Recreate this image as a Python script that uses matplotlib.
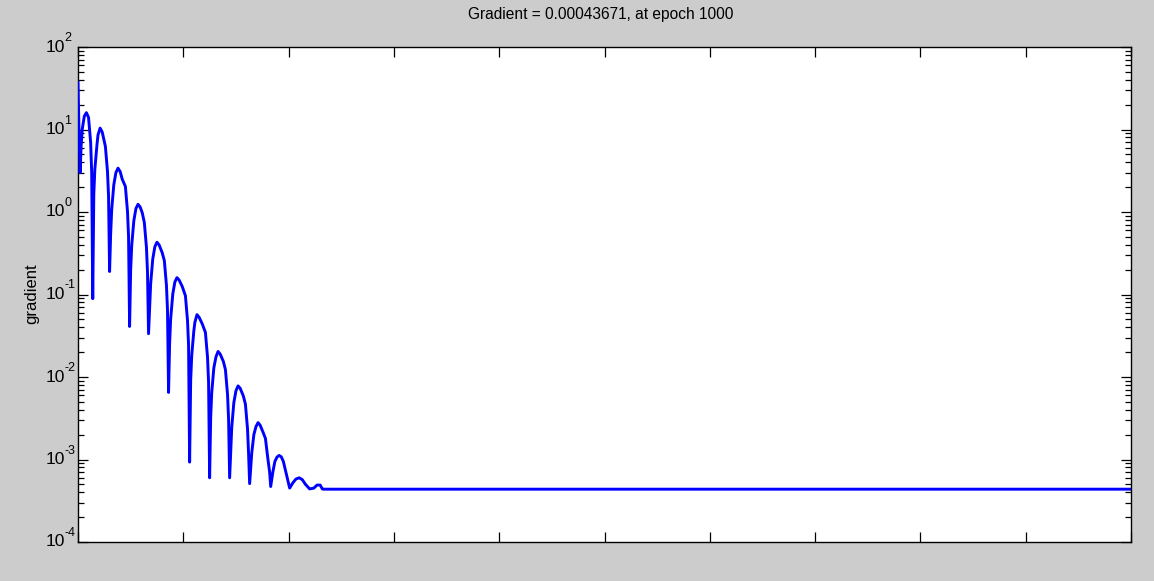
import matplotlib
matplotlib.use("Agg")
import matplotlib.pyplot as plt
from matplotlib import transforms
from matplotlib.ticker import LogLocator, FixedLocator, NullFormatter

# ---------------- data ----------------
epochs = [0, 1, 2, 3, 4, 6, 8, 10, 12, 13, 14,
          15, 16, 18, 19, 21, 23, 26, 28, 29, 30,
          31, 32, 34, 36, 38, 40, 42, 45, 47, 48, 49,
          50, 51, 53, 55, 57, 59, 61, 63, 65, 66, 67,
          68, 69, 71, 73, 75, 77, 80, 82, 84, 85, 86,
          87, 88, 90, 92, 94, 96, 99, 102, 104, 105, 106,
          107, 108, 110, 111, 113, 115, 118, 121, 123, 124, 125,
          126, 127, 129, 131, 133, 135, 138, 140, 142, 143, 144,
          145, 146, 148, 150, 152, 154, 157, 159, 161, 162, 163,
          164, 165, 167, 169, 171, 173, 176, 178, 180, 182, 183,
          185, 187, 189, 191, 193, 195, 198, 201,
          204, 207, 210, 213, 216, 220,
          224, 227, 230, 232, 233, 1000]
gradient = [37, 9, 3.0, 6.5, 10, 14.5, 16, 14, 7, 3, 0.089,
            1.64, 3.3, 6.5, 8.6, 10.4, 9.3, 6.25, 3.1, 1.57, 0.19,
            0.54, 1.07, 2.14, 3.0, 3.4, 3.1, 2.5, 2.04, 1.02, 0.51, 0.041,
            0.196, 0.39, 0.78, 1.1, 1.24, 1.15, 0.98, 0.745, 0.373, 0.187, 0.0335,
            0.0676, 0.135, 0.27, 0.38, 0.43, 0.40, 0.32, 0.257, 0.129, 0.0646, 0.0065,
            0.0254, 0.0507, 0.101, 0.142, 0.16, 0.15, 0.125, 0.0966, 0.0484, 0.0243, 0.00093,
            0.0091, 0.0182, 0.0363, 0.046, 0.057, 0.053, 0.044, 0.0347, 0.0174, 0.0087, 6.0e-4,
            0.00324, 0.00646, 0.0129, 0.0175, 0.0204, 0.019, 0.0155, 0.0123, 0.00617, 0.00309, 6.0e-4,
            0.00123, 0.00245, 0.0049, 0.0068, 0.0078, 0.0073, 0.0059, 0.00468, 0.00234, 0.00117, 5.1e-4,
            8e-4, 1.2e-3, 2.0e-3, 2.5e-3, 2.8e-3, 2.6e-3, 2.1e-3, 1.8e-3, 1.1e-3, 7e-4, 4.7e-4,
            7e-4, 9.5e-4, 1.07e-3, 1.12e-3, 1.08e-3, 9.5e-4, 6.5e-4, 4.5e-4,
            5.2e-4, 5.8e-4, 6.0e-4, 5.7e-4, 5.0e-4, 4.4e-4,
            4.5e-4, 4.9e-4, 4.9e-4, 4.4e-4, 4.3671e-4, 4.3671e-4]

x_ticks = [0, 100, 200, 300, 400, 500, 600, 700, 800, 900, 1000]
y_ticks = [1e-4, 1e-3, 1e-2, 1e-1, 1e0, 1e1, 1e2]
y_tick_base = "10"
y_tick_exponents = ["-4", "-3", "-2", "-1", "0", "1", "2"]
title_text = "Gradient = 0.00043671, at epoch 1000"
y_label = "gradient"

plt.rcParams['font.family'] = ['Liberation Sans', 'DejaVu Sans']

W, H = 1154, 581
fig = plt.figure(figsize=(W / 100, H / 100), dpi=100, facecolor='#cccccc')
left, right, top, bottom = 78, 1131, 47, 542
ax = fig.add_axes([left / W, 1 - bottom / H, (right - left) / W, (bottom - top) / H])
ax.set_facecolor('white')

ax.plot(epochs, gradient, color='#0000ff', lw=2.1, zorder=3)

ax.set_yscale('log')
ax.set_xlim(0, 1000)
ax.set_ylim(1e-4, 1e2)

ax.xaxis.set_major_locator(FixedLocator(x_ticks))
ax.set_xticklabels([''] * len(x_ticks))
ax.yaxis.set_major_locator(FixedLocator(y_ticks))
ax.set_yticklabels([''] * len(y_ticks))
ax.yaxis.set_minor_locator(LogLocator(base=10, subs=[2, 3, 4, 5, 6, 7, 8, 9], numticks=20))
ax.yaxis.set_minor_formatter(NullFormatter())

ax.tick_params(axis='both', which='major', direction='in', length=7.5, width=0.9,
               top=True, right=True, colors='black')
ax.tick_params(axis='y', which='minor', direction='in', length=4, width=0.9, right=True, left=True)
for s in ax.spines.values():
    s.set_linewidth(1.0)
    s.set_color('black')

# MATLAB-style "10" with raised exponent, drawn as real text at each decade
ytrans = ax.get_yaxis_transform()
base_x = (46 - left) / (right - left)
sup_x = (64.5 - left) / (right - left)
for yv, ex in zip(y_ticks, y_tick_exponents):
    ax.text(base_x, yv, y_tick_base, transform=ytrans, ha='left', va='center',
            fontsize=12.5, clip_on=False)
    ax.text(sup_x, yv, ex, ha='left', va='center', fontsize=9, clip_on=False,
            transform=ytrans + transforms.ScaledTranslation(0, 9 / 100, fig.dpi_scale_trans))

fig.text(601 / W, 1 - 14 / H, title_text, ha='center', va='center',
         fontsize=11.2, color='black')
fig.text(32 / W, 1 - 294 / H, y_label, rotation=90, ha='center', va='center',
         fontsize=12)

fig.savefig('out.png', dpi=100, facecolor=fig.get_facecolor())
